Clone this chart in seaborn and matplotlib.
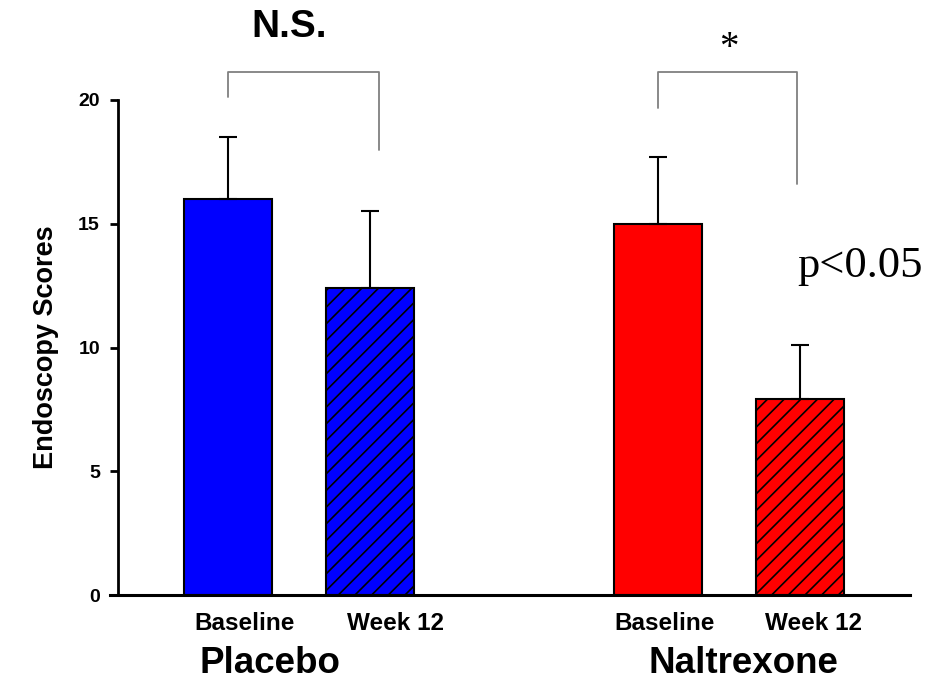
import matplotlib
matplotlib.use("Agg")
import matplotlib.pyplot as plt
import pandas as pd
import seaborn as sns

# dati
gruppi = ["Placebo", "Naltrexone"]
tempi = ["Baseline", "Week 12"]
punteggi = [16.0, 12.4, 15.0, 7.9]          # ordine: P-Base, P-W12, N-Base, N-W12
errori = [2.5, 3.1, 2.7, 2.2]
colori_gruppo = {"Placebo": "#0000FF", "Naltrexone": "#FF0000"}
tratteggi = {"Baseline": "", "Week 12": "//"}
etichette_sig = ["N.S.", "*"]
# altezze delle parentesi (top, estremo sinistro, estremo destro)
parentesi = [(21.13, 20.12, 17.98), (21.13, 19.68, 16.6)]
# spostamento orizzontale delle etichette rispetto alle barre / ai gruppi (unità x)
spost_etichette = [0.04, 0.058, 0.016, 0.031]
spost_gruppi = [-0.067, 0.033]

df = pd.DataFrame({
    "group": [g for g in gruppi for _ in tempi],
    "time": tempi * len(gruppi),
    "score": punteggi,
    "err": errori,
})

sns.set_style("ticks")
plt.rcParams["font.family"] = ["Liberation Sans", "DejaVu Sans"]
plt.rcParams["hatch.linewidth"] = 1.2
plt.rcParams["hatch.color"] = "black"
plt.rcParams["text.color"] = "black"
plt.rcParams["axes.labelcolor"] = "black"
plt.rcParams["xtick.color"] = "black"
plt.rcParams["ytick.color"] = "black"
plt.rcParams["axes.edgecolor"] = "black"

fig = plt.figure(figsize=(9.37, 6.81), dpi=100)
ax = fig.add_axes([110 / 937, 1 - 595 / 681, 800 / 937, 495 / 681])

sns.barplot(data=df, x="group", y="score", hue="time", order=gruppi, hue_order=tempi,
            width=0.664, gap=0.383, errorbar=None, legend=False,
            edgecolor="black", linewidth=1.5, ax=ax)

# spine sinistra spostata prima di impostare i tick (set_position li azzera)
for lato in ["top", "right"]:
    ax.spines[lato].set_visible(False)
ax.spines["left"].set_position(("axes", 8 / 800))
ax.spines["left"].set_linewidth(2)
ax.spines["bottom"].set_linewidth(2.2)

# colori e tratteggio per ogni barra (ordinate per posizione x)
barre = sorted(ax.patches, key=lambda p: p.get_x())
centri = []
for barra, (_, riga) in zip(barre, df.iterrows()):
    barra.set_facecolor(colori_gruppo[riga["group"]])
    barra.set_hatch(tratteggi[riga["time"]])
    centri.append(barra.get_x() + barra.get_width() / 2)

# barre di errore solo verso l'alto
ax.errorbar(centri, df["score"], yerr=[[0] * len(df), df["err"]], fmt="none",
            ecolor="black", elinewidth=1.5, capsize=6.5, capthick=1.5, zorder=3)

ax.set_ylim(0, 20)
ax.set_xlim(-0.4395, 1.421)
ax.set_yticks([0, 5, 10, 15, 20])
ax.set_yticklabels(["0", "5", "10", "15", "20"], fontsize=14, fontweight="bold")
ax.set_ylabel("Endoscopy Scores", fontsize=19.5, fontweight="bold", labelpad=14)
ax.set_xlabel("")

ax.set_xticks([c + s for c, s in zip(centri, spost_etichette)])
ax.set_xticklabels(tempi * len(gruppi), fontsize=17.5, fontweight="bold")
ax.tick_params(axis="x", length=0, pad=12)
ax.tick_params(axis="y", length=6, width=2, pad=7, direction="out")

# nomi dei gruppi sotto le etichette
for i, g in enumerate(gruppi):
    ax.text(i + spost_gruppi[i], -(673 - 595) / 495, g, transform=ax.get_xaxis_transform(),
            ha="center", va="baseline", fontsize=26.5, fontweight="bold")

# parentesi di significatività
for i, (top, sx, dx) in enumerate(parentesi):
    x0 = centri[2 * i]
    x1 = centri[2 * i + 1] + (0.02 if i == 0 else -0.008)
    ax.plot([x0, x0, x1, x1], [sx, top, top, dx], color="gray", lw=1.3, clip_on=False)

ax.text(-0.023, 22.95, etichette_sig[0], ha="center", va="center", fontsize=28,
        fontweight="bold")
ax.text(1.0, 21.7, etichette_sig[1], ha="center", va="baseline", fontsize=28,
        family=["Liberation Serif", "DejaVu Serif"])
ax.text(1.158, 12.85, "p<0.05", ha="left", va="baseline", fontsize=32,
        family=["Liberation Serif", "DejaVu Serif"])

fig.savefig("out.png", dpi=100)
